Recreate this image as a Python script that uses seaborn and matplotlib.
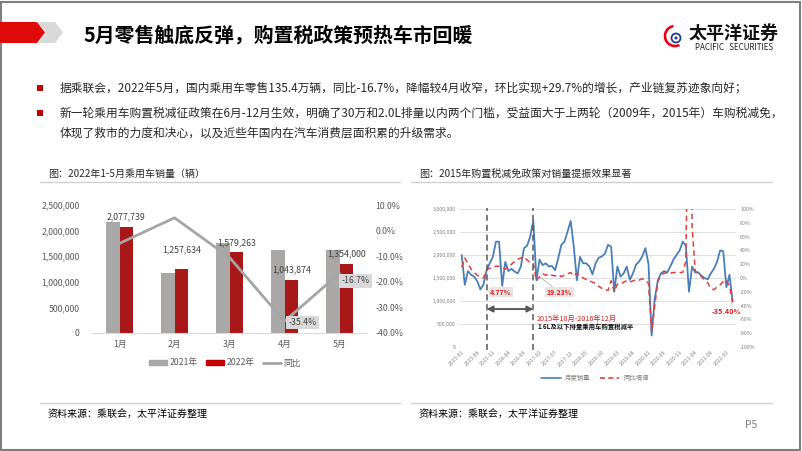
import numpy as np
import pandas as pd
import matplotlib
matplotlib.use("Agg")
import matplotlib.pyplot as plt
import matplotlib.patches as mpatches
from matplotlib.lines import Line2D
import seaborn as sns

# ---------------- data: left chart ----------------
months_cn = ["1月", "2月", "3月", "4月", "5月"]
sales_2021 = [2173000, 1180000, 1764000, 1616000, 1625000]
sales_2022 = [2077739, 1257634, 1579263, 1043874, 1354000]
yoy_2022 = [-5.0, 5.0, -10.5, -35.4, -16.7]
left_yticks = [0, 500000, 1000000, 1500000, 2000000, 2500000]
left_y2ticks = [-40, -30, -20, -10, 0, 10]

# ---------------- data: right chart ----------------
month_start = "2015-01"
monthly_sales_m = [
    2.00, 1.35, 1.65, 1.57, 1.53, 1.43, 1.25, 1.36, 1.67, 1.82, 1.96, 2.29,
    2.29, 1.33, 1.85, 1.65, 1.70, 1.64, 1.60, 1.75, 2.15, 2.20, 2.40, 2.75,
    1.45, 1.90, 1.78, 1.82, 1.75, 1.76, 1.67, 1.93, 2.22, 2.29, 2.51, 2.74,
    2.18, 1.45, 1.96, 1.82, 1.82, 1.75, 1.58, 1.82, 1.94, 1.97, 2.03, 2.22,
    2.18, 1.20, 1.75, 1.53, 1.60, 1.75, 1.46, 1.60, 1.79, 1.86, 1.97, 2.15,
    1.80, 0.25, 1.05, 1.45, 1.60, 1.65, 1.62, 1.75, 1.90, 2.00, 2.10, 2.29,
    2.20, 1.20, 1.75, 1.62, 1.62, 1.55, 1.50, 1.47, 1.60, 1.70, 1.85, 2.10,
    2.08, 1.30, 1.57, 1.00,
]
yoy_growth = [
    16, 29, 21, 13, 8, 4, 2, 0, 12, 14, 16, 17,
    17, 15, 13, 15, 20, 24, 27, 29, 31, 26, 22, 21,
    -4, 2, 6, 4, 6, 4, 3, 5, 2, 4, 6, 8,
    3, 7, 4, 0, -2, -4, -6, -8, -12, -15, -17, -18,
    -4, -20, -9, -9, -6, -4, -6, -4, -3, -3, -1, -3,
    -8, -78, -40, -5, 5, 7, 7, 7, 8, 8, 8, 8,
    25, 380, 75, 10, 7, 2, -3, -7, -15, -17, -13, -10,
    -5, -3, -12, -35.4,
]
policy_months = ["2015-09", "2016-12"]
right_yticks = [0, 500000, 1000000, 1500000, 2000000, 2500000, 3000000]
right_y2ticks = [-100, -80, -60, -40, -20, 0, 20, 40, 60, 80, 100]

# ---------------- style ----------------
sns.set_style("white")
plt.rcParams["font.family"] = ["Noto Sans CJK SC", "DejaVu Sans"]
plt.rcParams["axes.unicode_minus"] = False

W, H = 802, 451
fig = plt.figure(figsize=(W / 100, H / 100), dpi=100)
fig.patch.set_facecolor("white")


def fx(x):
    return x / W


def fy(y):
    return 1 - y / H


RED = "#E00A0A"
GRAY_TXT = "#595959"

# frame
fig.add_artist(mpatches.Rectangle((fx(1), fy(449.5)), fx(799), 448 / H,
                                  transform=fig.transFigure, fill=False,
                                  ec="#7F7F7F", lw=1.5))

# header shapes
red_poly = [(0, 22), (37, 22), (45, 32.5), (37, 43), (0, 43)]
gray_poly = [(38, 22), (55, 22), (63, 32.5), (55, 43), (38, 43), (46, 32.5)]
fig.add_artist(mpatches.Polygon([(fx(a), fy(b)) for a, b in red_poly],
                                closed=True, transform=fig.transFigure,
                                fc=RED, ec="none"))
fig.add_artist(mpatches.Polygon([(fx(a), fy(b)) for a, b in gray_poly],
                                closed=True, transform=fig.transFigure,
                                fc="#D9D9D9", ec="none"))
fig.text(fx(83), fy(34.5), "5月零售触底反弹，购置税政策预热车市回暖",
         fontsize=14.3, fontweight="bold", color="#000000",
         va="center", ha="left")

# logo
lax = fig.add_axes([fx(660), fy(52), 28 / W, 32 / H])
lax.set_xlim(0, 28)
lax.set_ylim(0, 32)
lax.set_aspect("equal")
lax.axis("off")
lax.add_patch(mpatches.Wedge((15, 16), 12, 95, 300, width=4, fc="#E60012"))
lax.add_patch(mpatches.Circle((16, 14), 4.5, fc="none", ec="#1F3C88", lw=1.3))
lax.add_patch(mpatches.Circle((16, 14), 1.5, fc="#1F3C88", ec="none"))
fig.text(fx(734), fy(33), "太平洋证券", fontsize=13, fontweight="bold",
         ha="center", va="center", color="#111111")
fig.text(fx(734), fy(48), "PACIFIC   SECURITIES", fontsize=5.8,
         ha="center", va="center", color="#222222")

# bullets
bullets = [
    (88, "据乘联会，2022年5月，国内乘用车零售135.4万辆，同比-16.7%，降幅较4月收窄，环比实现+29.7%的增长，产业链复苏迹象向好；", True),
    (113, "新一轮乘用车购置税减征政策在6月-12月生效，明确了30万和2.0L排量以内两个门槛，受益面大于上两轮（2009年，2015年）车购税减免，", True),
    (133, "体现了救市的力度和决心，以及近些年国内在汽车消费层面积累的升级需求。", False),
]
for yy, txt, has_bullet in bullets:
    if has_bullet:
        fig.add_artist(mpatches.Rectangle((fx(37), fy(yy + 3)), 6 / W, 6 / H,
                                          transform=fig.transFigure,
                                          fc="#C00000", ec="none"))
    fig.text(fx(60), fy(yy), txt, fontsize=8.45, color="#262626",
             va="center", ha="left")

# chart titles, separators, sources
for x0, x1, title in [(40, 400, "图：2022年1-5月乘用车销量（辆）"),
                      (411, 772, "图：2015年购置税减免政策对销量提振效果显著")]:
    fig.text(fx(x0 + 8), fy(174), title, fontsize=7.2, color="#262626",
             va="center", ha="left")
    fig.add_artist(Line2D([fx(x0), fx(x1)], [fy(182), fy(182)],
                          transform=fig.transFigure, color="#D0D0D0", lw=1))
    fig.add_artist(Line2D([fx(x0), fx(x1)], [fy(403), fy(403)],
                          transform=fig.transFigure, color="#D0D0D0", lw=1))
    fig.text(fx(x0 + 8), fy(414), "资料来源：乘联会，太平洋证券整理",
             fontsize=7.2, color="#000000", va="center", ha="left")
fig.text(fx(745), fy(425), "P5", fontsize=7.5, color="#7F7F7F",
         va="center", ha="left")

# ---------------- left chart ----------------
ax = fig.add_axes([fx(92), fy(333), 275 / W, 128 / H])
df_left = pd.DataFrame({
    "month": months_cn * 2,
    "year": ["2021年"] * len(months_cn) + ["2022年"] * len(months_cn),
    "sales": sales_2021 + sales_2022,
})
sns.barplot(data=df_left, x="month", y="sales", hue="year",
            hue_order=["2021年", "2022年"], palette=["#AAA7A7", "#C00000"],
            width=0.5, ax=ax, legend=False, linewidth=0, errorbar=None)
ax.set_ylim(0, 2500000)
ax.set_yticks(left_yticks)
ax.set_yticklabels([f"{t:,}" for t in left_yticks])
ax.set_xlabel("")
ax.set_ylabel("")
for s in ["top", "left", "right"]:
    ax.spines[s].set_visible(False)
ax.spines["bottom"].set_color("#D9D9D9")
ax.tick_params(axis="both", length=0, labelsize=6.3, labelcolor=GRAY_TXT)
ax.tick_params(axis="x", pad=5)
ax.tick_params(axis="y", pad=9)

label_offsets = [7, 13.5, 7, 7, 7]
for i, v in enumerate(sales_2022):
    ax.annotate(f"{v:,}", xy=(i + 0.125, v), xytext=(0, label_offsets[i]),
                textcoords="offset points", ha="center", va="center",
                fontsize=6.3, color="#404040")

ax2 = ax.twinx()
df_yoy = pd.DataFrame({"month": months_cn, "yoy": yoy_2022})
sns.lineplot(data=df_yoy, x="month", y="yoy", ax=ax2, color="#A5A5A5",
             lw=2, sort=False, legend=False)
ax2.set_ylim(-40, 10)
ax2.set_yticks(left_y2ticks)
ax2.set_yticklabels([f"{t:.1f}%" for t in left_y2ticks])
ax2.set_ylabel("")
ax2.set_xlabel("")
for s in ["top", "left", "right", "bottom"]:
    ax2.spines[s].set_visible(False)
ax2.tick_params(axis="y", length=0, labelsize=6.3, labelcolor=GRAY_TXT, pad=6)
ax.set_xlim(-0.5, 4.5)
yoy_label_offsets = {3: (13, -0.7), 4: (11.5, -5.5)}
for i, (dx, dy) in yoy_label_offsets.items():
    ax2.annotate(f"{yoy_2022[i]:.1f}%", xy=(i, yoy_2022[i]), xytext=(dx, dy),
                 textcoords="offset points", ha="center", va="center",
                 fontsize=6.3, color="#404040",
                 bbox=dict(boxstyle="square,pad=0.25", fc="#D9D9D9", ec="none"))

fig.legend(handles=[mpatches.Patch(color="#AAA7A7", label="2021年"),
                    mpatches.Patch(color="#C00000", label="2022年"),
                    Line2D([], [], color="#A5A5A5", lw=2, label="同比")],
           loc="center", bbox_to_anchor=(fx(225), fy(363)), ncol=3,
           frameon=False, fontsize=6.3, labelcolor=GRAY_TXT,
           handlelength=2.0, handleheight=0.45, handletextpad=0.3,
           columnspacing=1.0)

# ---------------- right chart ----------------
month_labels = list(pd.period_range(month_start, periods=len(monthly_sales_m),
                                     freq="M").strftime("%Y-%m"))
df_right = pd.DataFrame({
    "idx": np.arange(len(month_labels)),
    "sales": np.array(monthly_sales_m) * 1_000_000,
    "yoy": yoy_growth,
})
ax3 = fig.add_axes([fx(460), fy(347), 276 / W, 138 / H])
sns.lineplot(data=df_right, x="idx", y="sales", ax=ax3, color="#4A7EBB",
             lw=1.3, legend=False, errorbar=None)
ax3.set_ylim(0, 3000000)
ax3.set_xlim(-0.55, 88.1)
ax3.set_yticks(right_yticks)
ax3.set_yticklabels([f"{t:,}" for t in right_yticks])
ax3.grid(axis="y", color="#D9D9D9", lw=0.6)
ax3.grid(axis="x", visible=False)
tick_idx = list(range(0, len(month_labels), 5))
ax3.set_xticks(tick_idx)
ax3.set_xticklabels([month_labels[i] for i in tick_idx], rotation=45,
                    ha="right", rotation_mode="anchor")
ax3.set_xlabel("")
ax3.set_ylabel("")
for s in ax3.spines.values():
    s.set_visible(False)
ax3.tick_params(axis="both", length=0, labelsize=3.8, labelcolor="#7F7F7F")
ax3.tick_params(axis="y", pad=3)
ax3.tick_params(axis="x", pad=2)

ax4 = ax3.twinx()
sns.lineplot(data=df_right, x="idx", y="yoy", ax=ax4, color="#E0403A",
             lw=1.1, linestyle=(0, (3.5, 2.5)), legend=False, errorbar=None)
ax4.set_ylim(-100, 100)
ax4.set_yticks(right_y2ticks)
ax4.set_yticklabels([f"{t}%" for t in right_y2ticks])
ax4.set_ylabel("")
for s in ax4.spines.values():
    s.set_visible(False)
ax4.tick_params(axis="y", length=0, labelsize=3.8, labelcolor="#7F7F7F", pad=3)
ax4.grid(False)
ax3.set_xlim(-0.55, 88.1)

for pm in policy_months:
    xi = month_labels.index(pm)
    ax4.plot([xi, xi], [-104, 101], color="#595959", lw=1.1,
             linestyle=(0, (4, 2.5)), clip_on=False, zorder=5)

p0 = month_labels.index(policy_months[0])
p1 = month_labels.index(policy_months[1])
ax4.annotate("", xy=(p0, -45), xytext=(p1, -45),
             arrowprops=dict(arrowstyle="<|-|>,head_length=0.35,head_width=0.18",
                             color="#595959", lw=1.4, shrinkA=0, shrinkB=0))
ax4.text(p1 + 1.2, -59, "2015年10月-2016年12月", fontsize=5.2, color="#E02020",
         ha="left", va="center")
ax4.text(p1 + 1.2, -71, "1.6L及以下排量乘用车购置税减半", fontsize=4.6,
         color="#111111", fontweight="bold", ha="left", va="center")

ax4.text(12.6, -20.5, "4.77%", fontsize=5, color="#E02020", fontweight="bold",
         ha="center", va="center",
         bbox=dict(boxstyle="square,pad=0.25", fc="#E8E4E4", ec="none"))
ax4.annotate("19.23%", xy=(25, 2), xytext=(31.3, -20.5), fontsize=5,
             color="#E02020", fontweight="bold", ha="center", va="center",
             bbox=dict(boxstyle="square,pad=0.25", fc="#E8E4E4", ec="none"),
             arrowprops=dict(arrowstyle="-", color="#A0A0A0", lw=0.5,
                             shrinkA=0, shrinkB=0))
last = len(yoy_growth) - 1
ax4.annotate(f"{yoy_growth[last]:.2f}%", xy=(last, yoy_growth[last]),
             xytext=(85.0, -48), fontsize=5.3, color="#E02020",
             fontweight="bold", ha="center", va="center",
             arrowprops=dict(arrowstyle="-", color="#A0A0A0", lw=0.5,
                             shrinkA=2, shrinkB=0))

fig.legend(handles=[Line2D([], [], color="#4A7EBB", lw=1.2, label="月度销量"),
                    Line2D([], [], color="#E0403A", lw=1.2,
                           linestyle=(0, (3, 2)), label="同比增速")],
           loc="center", bbox_to_anchor=(fx(595), fy(378)), ncol=2,
           frameon=False, fontsize=4.6, labelcolor="#7F7F7F",
           handlelength=3.0, handletextpad=0.6, columnspacing=1.6)

fig.savefig("out.png", dpi=100, facecolor="white")
